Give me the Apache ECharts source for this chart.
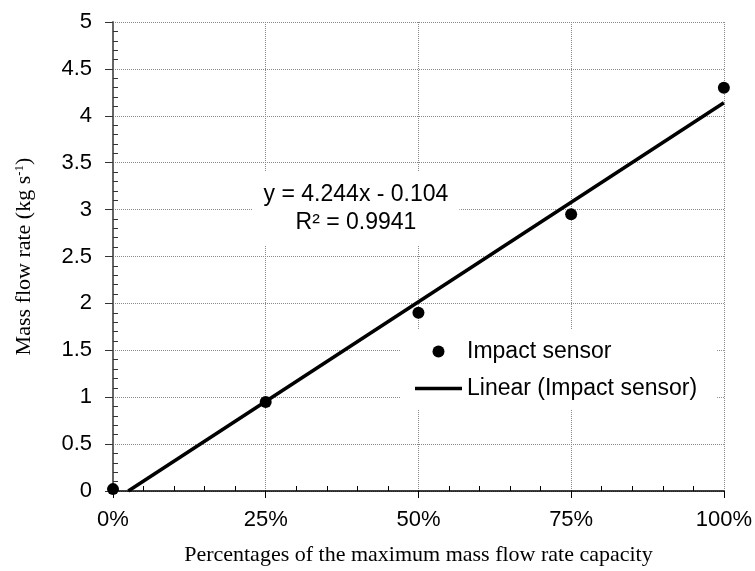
<!DOCTYPE html>
<html><head><meta charset="utf-8">
<script src="https://cdn.jsdelivr.net/npm/echarts@6/dist/echarts.min.js"></script>
<style>html,body{margin:0;padding:0;background:#fff}#c{width:755px;height:571px}</style>
</head><body><div id="c"></div>
<script>
// Data
const xPct = [0, 0.25, 0.5, 0.75, 1.0];
const sensorY = [0.02, 0.95, 1.9, 2.95, 4.3];
const trendX = [0.025, 1.0];
const trendY = [0, 4.14];
const xTicks = [0, 0.25, 0.5, 0.75, 1.0];
const yTicks = [0, 0.5, 1, 1.5, 2, 2.5, 3, 3.5, 4, 4.5, 5];
const eqText = 'y = 4.244x - 0.104';
const r2Text = 'R² = 0.9941';

const chart = echarts.init(document.getElementById('c'), null, {renderer: 'canvas'});
const font = 'Liberation Sans, Arial, sans-serif';
const serif = 'Liberation Serif, Times New Roman, serif';
chart.setOption({
  animation: false,
  backgroundColor: '#fff',
  grid: {left: 113, top: 22, right: 30, bottom: 79, containLabel: false},
  xAxis: {
    type: 'value', min: xTicks[0], max: xTicks[xTicks.length-1], interval: 0.25,
    name: 'Percentages of the maximum mass flow rate capacity',
    nameLocation: 'middle', nameGap: 53,
    nameTextStyle: {fontFamily: serif, fontSize: 22, color: '#000'},
    axisLine: {show: true, onZero: false, lineStyle: {color: '#000', width: 1.5}},
    axisTick: {show: true, length: 7, lineStyle: {color: '#000'}},
    minorTick: {show: true, splitNumber: 5, length: -5, lineStyle: {color: '#000'}},
    axisLabel: {fontFamily: font, fontSize: 22, color: '#000', margin: 18,
      formatter: v => Math.round(v*100) + '%'},
    splitLine: {show: true, lineStyle: {color: '#888', type: 'dotted', width: 1}}
  },
  yAxis: {
    type: 'value', min: yTicks[0], max: yTicks[yTicks.length-1], interval: 0.5,
    name: '{a|Mass flow rate (kg s}{s|-1}{a|)}',
    nameLocation: 'middle', nameGap: 77, nameRotate: 90,
    nameTextStyle: {rich: {
      a: {fontFamily: serif, fontSize: 22, color: '#000'},
      s: {fontFamily: serif, fontSize: 13, color: '#000', verticalAlign: 'top', padding: [0,0,10,0]}
    }},
    axisLine: {show: true, lineStyle: {color: '#666', width: 2}},
    axisTick: {show: true, length: 8, lineStyle: {color: '#333'}},
    minorTick: {show: true, splitNumber: 5, length: -5, lineStyle: {color: '#333'}},
    axisLabel: {fontFamily: font, fontSize: 22, color: '#000', margin: 21,
      formatter: v => String(v)},
    splitLine: {show: true, lineStyle: {color: '#888', type: 'dotted', width: 1}}
  },
  legend: {
    orient: 'vertical', left: 400, top: 330,
    backgroundColor: '#fff', padding: [10, 20, 10, 15], itemGap: 14,
    itemWidth: 47, itemHeight: 12,
    textStyle: {fontFamily: font, fontSize: 23, color: '#000'},
    data: [
      {name: 'Impact sensor', icon: 'circle', itemStyle: {color: '#000', opacity: 1}},
      {name: 'Linear (Impact sensor)', icon: 'path://M0,0H47V3.5H0Z', itemStyle: {color: '#000', opacity: 1}}
    ]
  },
  graphic: [{
    type: 'text', x: 356, y: 172, z: 100,
    style: {
      text: eqText + '\n' + r2Text, align: 'center', verticalAlign: 'top',
      font: '23px ' + font, fill: '#000', lineHeight: 28,
      backgroundColor: '#fff', padding: [9, 11, 9, 11]
    }
  }],
  series: [
    {name: 'Impact sensor', type: 'scatter', symbol: 'circle', symbolSize: 12,
     itemStyle: {color: '#000', opacity: 1}, z: 5,
     data: xPct.map((x, i) => [x, sensorY[i]])},
    {name: 'Linear (Impact sensor)', type: 'line', symbol: 'none', showSymbol: false,
     lineStyle: {color: '#000', width: 3.5}, itemStyle: {color: '#000'}, z: 4,
     data: trendX.map((x, i) => [x, trendY[i]])}
  ]
});
</script></body></html>
